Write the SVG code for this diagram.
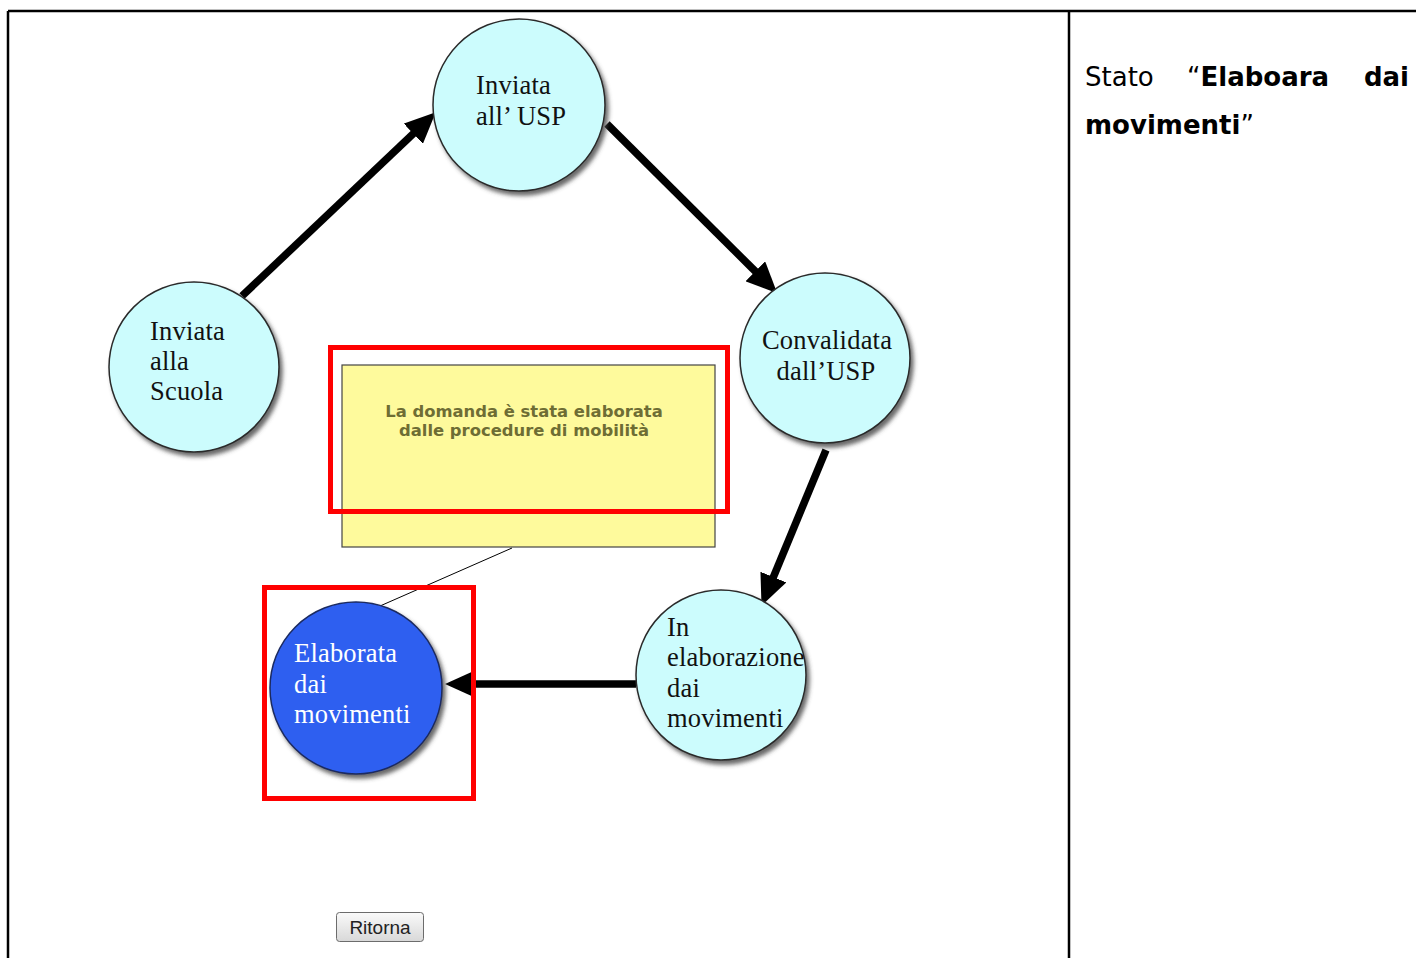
<svg xmlns="http://www.w3.org/2000/svg" width="1416" height="958" viewBox="0 0 1416 958">
  <style>
    .frame{stroke:#000;stroke-width:2.5;fill:none}
    .state{fill:#ccfcfd;stroke:#2a2a2a;stroke-width:1.5}
    .current{fill:#2e5ff0;stroke:#1a2a60;stroke-width:1.5}
    .lbl{font-family:"Liberation Serif","Times New Roman",serif;font-size:26.5px;letter-spacing:0.2px;fill:#111}
    .lblw{font-family:"Liberation Serif","Times New Roman",serif;font-size:26.5px;letter-spacing:0.2px;fill:#fff}
    .arrow{stroke:#000;stroke-width:7.5;fill:none}
    .hl{fill:none;stroke:#ff0000;stroke-width:5}
    .note{fill:#fefa9c;stroke:#444;stroke-width:1.2}
    .notetxt{font-family:"DejaVu Sans",Verdana,sans-serif;font-weight:bold;font-size:16.4px;fill:#6e6d34}
    .side{font-family:"DejaVu Sans",Verdana,sans-serif;font-size:26px;fill:#000}
    .btntxt{font-family:"Liberation Sans",Arial,sans-serif;font-size:19px;fill:#222}
  </style>
  <defs>
    <marker id="head" markerUnits="userSpaceOnUse" markerWidth="32" markerHeight="28" refX="1" refY="14" orient="auto">
      <path d="M0,0 L31,14 L0,28 z" fill="#000"/>
    </marker>
    <filter id="shadow" x="-20%" y="-20%" width="150%" height="150%">
      <feDropShadow dx="3" dy="4" stdDeviation="2" flood-color="#444" flood-opacity="0.8"/>
    </filter>
    <linearGradient id="btn" x1="0" y1="0" x2="0" y2="1">
      <stop offset="0" stop-color="#fafafa"/>
      <stop offset="1" stop-color="#d8d8d8"/>
    </linearGradient>
  </defs>

  <rect width="1416" height="958" fill="#fff"/>

  <g id="frame">
    <line class="frame" x1="8" y1="11" x2="1416" y2="11"/>
    <line class="frame" x1="8" y1="11" x2="8" y2="958"/>
    <line class="frame" x1="1069" y1="11" x2="1069" y2="958"/>
  </g>

  <g id="connectors">
    <line class="arrow" x1="242" y1="296" x2="414" y2="133" marker-end="url(#head)"/>
    <line class="arrow" x1="607" y1="124" x2="756" y2="272" marker-end="url(#head)"/>
    <line class="arrow" x1="826" y1="450" x2="773" y2="578" marker-end="url(#head)"/>
    <line class="arrow" x1="636" y1="684" x2="475" y2="684" marker-end="url(#head)"/>
    <line x1="512" y1="548" x2="380" y2="606" stroke="#000" stroke-width="1"/>
  </g>

  <g id="node-scuola">
    <circle class="state" cx="194" cy="367" r="85" filter="url(#shadow)"/>
    <text class="lbl" x="150" y="340">Inviata</text>
    <text class="lbl" x="150" y="370">alla</text>
    <text class="lbl" x="150" y="400">Scuola</text>
  </g>

  <g id="node-usp">
    <circle class="state" cx="519" cy="105" r="86" filter="url(#shadow)"/>
    <text class="lbl" x="476" y="94">Inviata</text>
    <text class="lbl" x="476" y="125">all’ USP</text>
  </g>

  <g id="node-convalidata">
    <circle class="state" cx="825" cy="358" r="85" filter="url(#shadow)"/>
    <text class="lbl" x="827" y="349" text-anchor="middle">Convalidata</text>
    <text class="lbl" x="826" y="380" text-anchor="middle">dall’USP</text>
  </g>

  <g id="node-inelaborazione">
    <circle class="state" cx="721" cy="675" r="85" filter="url(#shadow)"/>
    <text class="lbl" x="667" y="636">In</text>
    <text class="lbl" x="667" y="666">elaborazione</text>
    <text class="lbl" x="667" y="697">dai</text>
    <text class="lbl" x="667" y="727">movimenti</text>
  </g>

  <g id="node-elaborata">
    <circle class="current" cx="356" cy="688" r="86" filter="url(#shadow)"/>
    <text class="lblw" x="294" y="662">Elaborata</text>
    <text class="lblw" x="294" y="693">dai</text>
    <text class="lblw" x="294" y="723">movimenti</text>
  </g>

  <g id="node-note">
    <rect class="note" x="342" y="365" width="373" height="182"/>
    <text class="notetxt" x="524" y="417" text-anchor="middle">La domanda è stata elaborata</text>
    <text class="notetxt" x="524" y="436" text-anchor="middle">dalle procedure di mobilità</text>
  </g>

  <g id="highlights">
    <rect class="hl" x="330.5" y="347.5" width="397" height="164"/>
    <rect class="hl" x="264.5" y="587.5" width="209" height="211"/>
  </g>

  <g id="button-ritorna">
    <rect x="336.5" y="912.5" width="87" height="29" rx="3" fill="url(#btn)" stroke="#6c6c6c" stroke-width="1"/>
    <text class="btntxt" x="380" y="934" text-anchor="middle">Ritorna</text>
  </g>

  <g id="side-text">
    <text class="side" x="1085" y="86">Stato</text>
    <text class="side" x="1187" y="86">“<tspan font-weight="bold">Elaboara</tspan></text>
    <text class="side" x="1409" y="86" text-anchor="end" font-weight="bold">dai</text>
    <text class="side" x="1085" y="134"><tspan font-weight="bold">movimenti</tspan>”</text>
  </g>
</svg>
